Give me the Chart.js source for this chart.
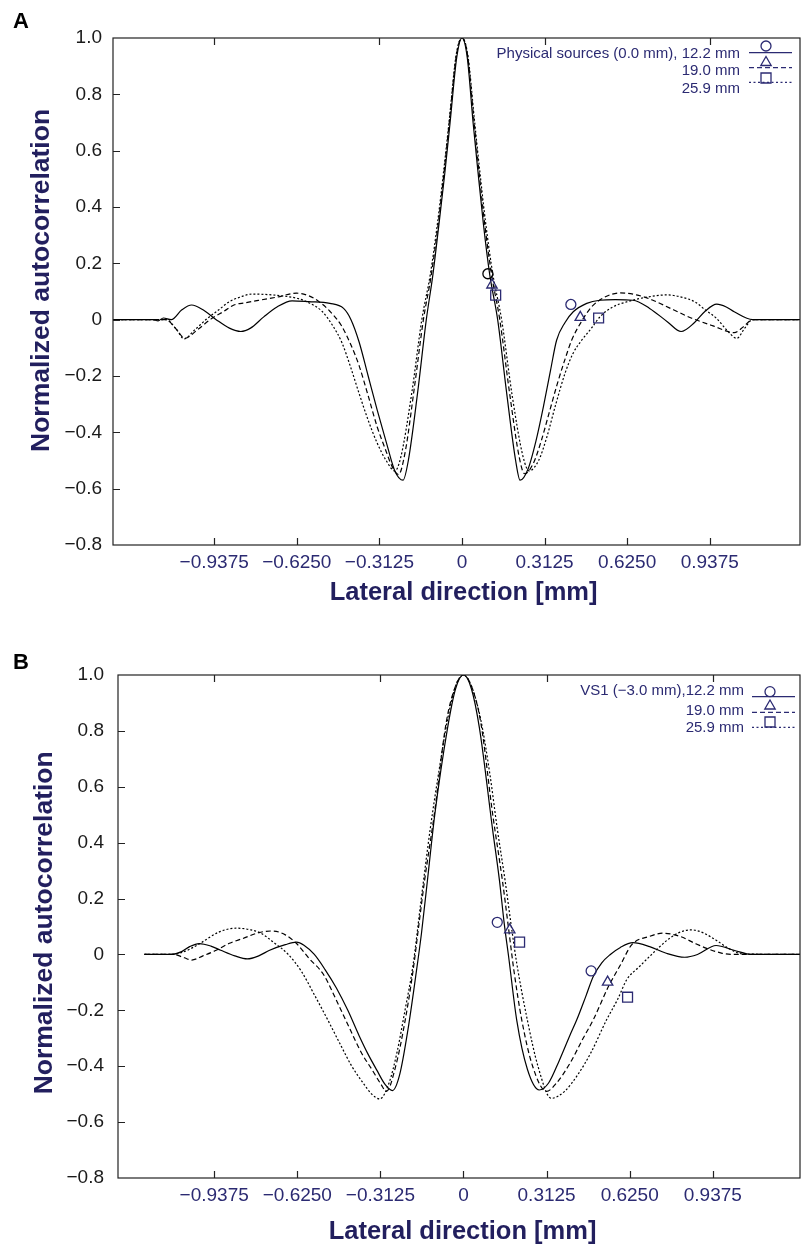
<!DOCTYPE html>
<html lang="en">
<head>
<meta charset="UTF-8">
<title>Normalized autocorrelation</title>
<script src="https://cdn.jsdelivr.net/npm/chart.js"></script>
<style>
  body { margin: 0; background: #ffffff; }
  canvas { display: block; }
</style>
</head>
<body>
<canvas id="chartA" width="802" height="626"></canvas>
<canvas id="chartB" width="802" height="626"></canvas>
<script>
// ticks
const xTickVals = [-0.9375, -0.625, -0.3125, 0, 0.3125, 0.625, 0.9375];
const xTickLabels = ['\u22120.9375', '\u22120.6250', '\u22120.3125', '0', '0.3125', '0.6250', '0.9375'];
const xTopTickVals = [-0.9375, -0.3125, 0.3125, 0.9375];
const yTickVals = [-0.8, -0.6, -0.4, -0.2, 0, 0.2, 0.4, 0.6, 0.8, 1.0];
const yTickLabels = ['\u22120.8', '\u22120.6', '\u22120.4', '\u22120.2', '0', '0.2', '0.4', '0.6', '0.8', '1.0'];

const seriesNames = ['12.2 mm', '19.0 mm', '25.9 mm'];

// panel A: physical sources (0.0 mm), [lateral mm, autocorrelation]
const aSolid = [[-1.32,0],[-1.17,0],[-1.15,-0.004],[-1.13,0.006],[-1.10,0],[-1.06,0.035],[-1.023,0.052],[-0.98,0.035],
  [-0.93,0],[-0.88,-0.03],[-0.837,-0.042],[-0.80,-0.03],[-0.75,0.01],[-0.70,0.045],[-0.643,0.067],[-0.58,0.064],
  [-0.50,0.058],[-0.448,0.04],[-0.42,0],[-0.389,-0.08],[-0.355,-0.2],[-0.321,-0.32],[-0.285,-0.44],[-0.254,-0.537],
  [-0.223,-0.57],[-0.203,-0.5],[-0.168,-0.26],[-0.135,0],[-0.11,0.16],[-0.087,0.34],[-0.065,0.52],[-0.045,0.7],
  [-0.02,0.93],[0,1],[0.02,0.93],[0.042,0.7],[0.06,0.53],[0.081,0.34],[0.105,0.16],[0.135,0],[0.169,-0.26],
  [0.203,-0.5],[0.22,-0.57],[0.25,-0.53],[0.28,-0.43],[0.31,-0.3],[0.335,-0.18],[0.358,-0.073],[0.39,-0.01],
  [0.421,0.028],[0.472,0.058],[0.522,0.069],[0.58,0.071],[0.647,0.069],[0.71,0.04],[0.778,-0.008],[0.829,-0.042],
  [0.88,-0.01],[0.92,0.03],[0.964,0.055],[1.0,0.045],[1.03,0.028],[1.10,0],[1.28,0]];
const aDashed = [[-1.32,0],[-1.12,0],[-1.08,-0.035],[-1.049,-0.066],[-1.00,-0.035],[-0.947,0.004],[-0.90,0.03],
  [-0.863,0.052],[-0.82,0.06],[-0.761,0.07],[-0.70,0.08],[-0.626,0.094],[-0.58,0.085],[-0.541,0.064],[-0.50,0.03],
  [-0.457,-0.02],[-0.42,-0.09],[-0.389,-0.164],[-0.355,-0.27],[-0.321,-0.38],[-0.29,-0.46],[-0.265,-0.52],[-0.24,-0.55],
  [-0.215,-0.47],[-0.18,-0.24],[-0.146,0],[-0.116,0.16],[-0.09,0.34],[-0.067,0.53],[-0.047,0.71],[-0.021,0.94],[0,1],
  [0.021,0.94],[0.045,0.71],[0.064,0.53],[0.086,0.34],[0.112,0.16],[0.143,0],[0.18,-0.26],[0.217,-0.49],[0.237,-0.547],
  [0.27,-0.51],[0.30,-0.43],[0.33,-0.33],[0.36,-0.23],[0.39,-0.14],[0.415,-0.073],[0.45,-0.01],[0.49,0.045],[0.54,0.08],
  [0.598,0.095],[0.66,0.088],[0.72,0.07],[0.80,0.035],[0.87,0.005],[0.95,-0.022],[1.03,-0.046],[1.065,-0.025],[1.10,0],[1.28,0]];
const aDotted = [[-1.32,0],[-1.12,0],[-1.08,-0.035],[-1.052,-0.068],[-1.01,-0.035],[-0.964,0.004],[-0.92,0.035],
  [-0.88,0.064],[-0.84,0.08],[-0.795,0.091],[-0.72,0.088],[-0.66,0.082],[-0.62,0.075],[-0.575,0.058],[-0.53,0.03],
  [-0.49,-0.02],[-0.455,-0.08],[-0.423,-0.164],[-0.39,-0.26],[-0.355,-0.357],[-0.32,-0.44],[-0.287,-0.5],[-0.254,-0.537],
  [-0.232,-0.49],[-0.19,-0.26],[-0.152,0],[-0.12,0.16],[-0.093,0.34],[-0.069,0.53],[-0.048,0.71],[-0.022,0.94],[0,1],
  [0.022,0.94],[0.047,0.71],[0.067,0.53],[0.09,0.34],[0.117,0.16],[0.15,0],[0.19,-0.27],[0.232,-0.49],[0.254,-0.537],
  [0.29,-0.5],[0.32,-0.42],[0.355,-0.3],[0.39,-0.19],[0.42,-0.12],[0.453,-0.073],[0.49,-0.03],[0.522,0.01],[0.57,0.045],
  [0.623,0.063],[0.70,0.08],[0.778,0.088],[0.83,0.08],[0.88,0.064],[0.92,0.035],[0.964,0.004],[1.00,-0.035],[1.04,-0.066],
  [1.07,-0.03],[1.10,0],[1.28,0]];
// panel A markers (circle, triangle, square)
const aCircle = [[0.098,0.163],[0.412,0.054]];
const aTriangle = [[0.1135,0.123],[0.4476,0.008]];
const aSquare = [[0.1275,0.087],[0.517,0.006]];

// panel B: VS1 (-3.0 mm)
const bSolid = [[-1.20,0],[-1.10,0],[-1.06,0.01],[-1.03,0.028],[-0.994,0.039],[-0.95,0.03],[-0.913,0.015],[-0.86,-0.005],
  [-0.813,-0.016],[-0.77,-0.005],[-0.729,0.015],[-0.67,0.035],[-0.628,0.044],[-0.60,0.033],[-0.561,0],[-0.52,-0.055],
  [-0.478,-0.12],[-0.435,-0.2],[-0.393,-0.29],[-0.36,-0.355],[-0.326,-0.414],[-0.295,-0.465],[-0.267,-0.487],[-0.24,-0.43],
  [-0.209,-0.27],[-0.18,-0.08],[-0.158,0.076],[-0.135,0.27],[-0.108,0.5],[-0.06,0.81],[-0.03,0.95],[0,1],[0.03,0.95],
  [0.06,0.81],[0.11,0.443],[0.135,0.267],[0.153,0.112],[0.17,-0.01],[0.20,-0.234],[0.24,-0.41],[0.285,-0.485],[0.32,-0.46],
  [0.36,-0.38],[0.40,-0.29],[0.426,-0.234],[0.46,-0.15],[0.488,-0.079],[0.52,-0.03],[0.551,-0.001],[0.59,0.025],
  [0.637,0.042],[0.70,0.028],[0.76,0.005],[0.832,-0.01],[0.88,0],[0.95,0.032],[1.017,0.015],[1.085,0],[1.27,0]];
const bDashed = [[-1.20,0],[-1.09,0],[-1.05,-0.012],[-1.022,-0.02],[-0.98,-0.005],[-0.93,0.015],[-0.88,0.04],[-0.83,0.057],
  [-0.77,0.078],[-0.72,0.084],[-0.67,0.07],[-0.628,0.039],[-0.58,-0.015],[-0.527,-0.071],[-0.475,-0.17],[-0.427,-0.267],
  [-0.385,-0.35],[-0.343,-0.414],[-0.31,-0.465],[-0.29,-0.49],[-0.255,-0.4],[-0.219,-0.234],[-0.19,-0.06],[-0.167,0.112],
  [-0.146,0.267],[-0.11,0.5],[-0.065,0.83],[-0.03,0.96],[0,1],[0.03,0.96],[0.065,0.83],[0.11,0.5],[0.146,0.267],
  [0.167,0.112],[0.19,-0.06],[0.219,-0.234],[0.26,-0.4],[0.312,-0.49],[0.35,-0.46],[0.40,-0.39],[0.45,-0.3],[0.488,-0.234],
  [0.545,-0.115],[0.59,-0.038],[0.633,0.035],[0.70,0.065],[0.749,0.076],[0.816,0.064],[0.87,0.04],[0.917,0.021],
  [0.97,0.005],[1.017,0],[1.27,0]];
const bDotted = [[-1.20,0],[-1.10,0],[-1.05,0.01],[-0.99,0.04],[-0.92,0.08],[-0.855,0.094],[-0.80,0.088],[-0.762,0.076],
  [-0.71,0.04],[-0.661,0.002],[-0.61,-0.06],[-0.561,-0.144],[-0.51,-0.235],[-0.46,-0.328],[-0.42,-0.4],[-0.376,-0.462],
  [-0.345,-0.5],[-0.315,-0.517],[-0.28,-0.46],[-0.25,-0.35],[-0.22,-0.2],[-0.19,-0.04],[-0.16,0.19],[-0.125,0.45],
  [-0.09,0.67],[-0.06,0.84],[-0.03,0.96],[0,1],[0.03,0.96],[0.065,0.84],[0.10,0.64],[0.127,0.45],[0.156,0.267],
  [0.18,0.1],[0.20,-0.03],[0.24,-0.234],[0.28,-0.4],[0.33,-0.515],[0.38,-0.49],[0.43,-0.43],[0.48,-0.35],[0.538,-0.234],
  [0.58,-0.16],[0.614,-0.09],[0.66,-0.045],[0.70,-0.007],[0.766,0.051],[0.81,0.078],[0.858,0.088],[0.90,0.078],
  [0.95,0.051],[1.00,0.02],[1.05,0.002],[1.27,0]];
const bCircle = [[0.127,0.115],[0.480,-0.059]];
const bTriangle = [[0.174,0.088],[0.542,-0.099]];
const bSquare = [[0.211,0.044],[0.617,-0.153]];

const navy = '#2b2a72';
const navyDark = '#221f5e';
const fontFamily = "'Liberation Sans', Arial, Helvetica, sans-serif";
Chart.defaults.font.family = fontFamily;

const toXY = arr => arr.map(p => ({ x: p[0], y: p[1] }));

function lineSet(points, dash) {
  return {
    type: 'line', data: toXY(points), borderColor: '#000', borderWidth: 1.2, borderDash: dash,
    pointRadius: 0, fill: false, cubicInterpolationMode: 'monotone', order: 2
  };
}
function markerSet(points, style, radius, colors) {
  return {
    type: 'scatter', data: toXY(points), showLine: false, pointStyle: style, pointRadius: radius,
    pointBorderColor: colors || navy, pointBackgroundColor: 'rgba(0,0,0,0)', pointBorderWidth: 1.3, order: 1
  };
}

// box around the plot, inward ticks, panel letter
const framePlugin = {
  id: 'frame',
  afterDatasetsDraw(chart, args, o) {
    const { ctx, chartArea: a, scales: { x, y } } = chart;
    ctx.save();
    ctx.strokeStyle = '#222';
    ctx.lineWidth = 1.2;
    ctx.strokeRect(a.left, a.top, a.right - a.left, a.bottom - a.top);
    ctx.beginPath();
    xTickVals.forEach(v => {
      const px = Math.round(x.getPixelForValue(v)) + 0.5;
      ctx.moveTo(px, a.bottom); ctx.lineTo(px, a.bottom - 7);
    });
    xTopTickVals.forEach(v => {
      const px = Math.round(x.getPixelForValue(v)) + 0.5;
      ctx.moveTo(px, a.top); ctx.lineTo(px, a.top + 7);
    });
    yTickVals.slice(1, -1).forEach(v => {
      const py = Math.round(y.getPixelForValue(v)) + 0.5;
      ctx.moveTo(a.left, py); ctx.lineTo(a.left + 7, py);
    });
    ctx.stroke();
    ctx.fillStyle = '#000';
    ctx.font = 'bold 22px ' + fontFamily;
    ctx.textBaseline = 'alphabetic';
    ctx.fillText(o.letter, 13, o.letterY);
    ctx.restore();
  }
};

// legend in the top right corner: text, line sample, marker
const legendPlugin = {
  id: 'cornerLegend',
  afterDraw(chart, args, o) {
    const ctx = chart.ctx;
    const dashes = [[], [5, 3], [2, 2.5]];
    ctx.save();
    ctx.font = '15px ' + fontFamily;
    ctx.textAlign = 'right';
    ctx.textBaseline = 'middle';
    o.labels.forEach((txt, i) => {
      ctx.fillStyle = navy;
      ctx.fillText(txt, o.textX, o.textY[i]);
      ctx.strokeStyle = navy;
      ctx.lineWidth = 1.2;
      ctx.setLineDash(dashes[i]);
      ctx.beginPath();
      ctx.moveTo(o.lineX[0], o.lineY[i]);
      ctx.lineTo(o.lineX[1], o.lineY[i]);
      ctx.stroke();
      ctx.setLineDash([]);
      const mx = o.markerX, my = o.markerY[i];
      ctx.lineWidth = 1.3;
      ctx.beginPath();
      if (i === 0) {
        ctx.arc(mx, my, 5, 0, Math.PI * 2);
      } else if (i === 1) {
        ctx.moveTo(mx, my - 6); ctx.lineTo(mx + 5.2, my + 3); ctx.lineTo(mx - 5.2, my + 3); ctx.closePath();
      } else {
        ctx.rect(mx - 5, my - 5, 10, 10);
      }
      ctx.stroke();
    });
    ctx.restore();
  }
};

function makeChart(id, p) {
  return new Chart(document.getElementById(id), {
    type: 'line',
    data: {
      datasets: [
        lineSet(p.solid, []), lineSet(p.dashed, [5, 3]), lineSet(p.dotted, [2, 2]),
        markerSet(p.circle, 'circle', 5, p.circleColors), markerSet(p.triangle, 'triangle', 6), markerSet(p.square, 'rect', 7)
      ]
    },
    options: {
      responsive: false,
      devicePixelRatio: 1,
      animation: false,
      events: [],
      layout: { autoPadding: false, padding: { top: p.top, right: 2, left: 0, bottom: 0 } },
      plugins: {
        legend: { display: false },
        tooltip: { enabled: false },
        frame: { letter: p.letter, letterY: p.letterY },
        cornerLegend: p.legend
      },
      scales: {
        x: {
          type: 'linear', min: p.xMin, max: p.xMax,
          afterBuildTicks: s => { s.ticks = xTickVals.map(v => ({ value: v })); },
          afterFit: s => { s.height = p.xAxisHeight; s.paddingLeft = 0; s.paddingRight = 0; },
          grid: { display: false, drawTicks: false }, border: { display: false },
          ticks: { color: navy, font: { size: 19 }, padding: 6, maxRotation: 0, autoSkip: false,
                   callback: (v, i) => xTickLabels[i] },
          title: { display: true, text: p.xTitle, color: navyDark,
                   font: { size: 25.5, weight: 'bold' }, padding: { top: 0, bottom: p.xTitlePad } }
        },
        y: {
          type: 'linear', min: -0.8, max: 1.0,
          afterBuildTicks: s => { s.ticks = yTickVals.map(v => ({ value: v })); },
          afterFit: s => { s.width = p.yAxisWidth; s.paddingTop = 0; s.paddingBottom = 0; },
          grid: { display: false, drawTicks: false }, border: { display: false },
          ticks: { color: '#1a1a1a', font: { size: 19 }, padding: p.yTickPad, callback: (v, i) => yTickLabels[i] },
          title: { display: true, text: p.yTitle, color: navyDark,
                   font: { size: 26.5, weight: 'bold' }, padding: { top: p.yTitlePad, bottom: 0 } }
        }
      }
    },
    plugins: [framePlugin, legendPlugin]
  });
}

makeChart('chartA', {
  solid: aSolid, dashed: aDashed, dotted: aDotted,
  circle: aCircle, triangle: aTriangle, square: aSquare, circleColors: ['#000', navy],
  xMin: -1.3205, xMax: 1.279, top: 38, xAxisHeight: 81, yAxisWidth: 113, xTitlePad: 18, yTitlePad: 26, yTickPad: 11,
  xTitle: '  Lateral direction [mm]', yTitle: '   Normalized autocorrelation',
  letter: 'A', letterY: 28,
  legend: {
    labels: ['Physical sources (0.0 mm), ' + seriesNames[0], seriesNames[1], seriesNames[2]],
    textX: 740, textY: [53.5, 71, 88.5], lineX: [749, 792], lineY: [52.7, 67.7, 82.3],
    markerX: 766, markerY: [46, 62.5, 78]
  }
});

makeChart('chartB', {
  solid: bSolid, dashed: bDashed, dotted: bDotted,
  circle: bCircle, triangle: bTriangle, square: bSquare,
  xMin: -1.2993, xMax: 1.2655, top: 49, xAxisHeight: 74, yAxisWidth: 118, xTitlePad: 5, yTitlePad: 29, yTickPad: 14,
  xTitle: ' Lateral direction [mm]', yTitle: ' Normalized autocorrelation',
  letter: 'B', letterY: 43,
  legend: {
    labels: ['VS1 (\u22123.0 mm),' + seriesNames[0], seriesNames[1], seriesNames[2]],
    textX: 744, textY: [65, 85, 102.3], lineX: [752, 795], lineY: [70.7, 86.3, 101.3],
    markerX: 770, markerY: [65.7, 80, 96]
  }
});
</script>
</body>
</html>
